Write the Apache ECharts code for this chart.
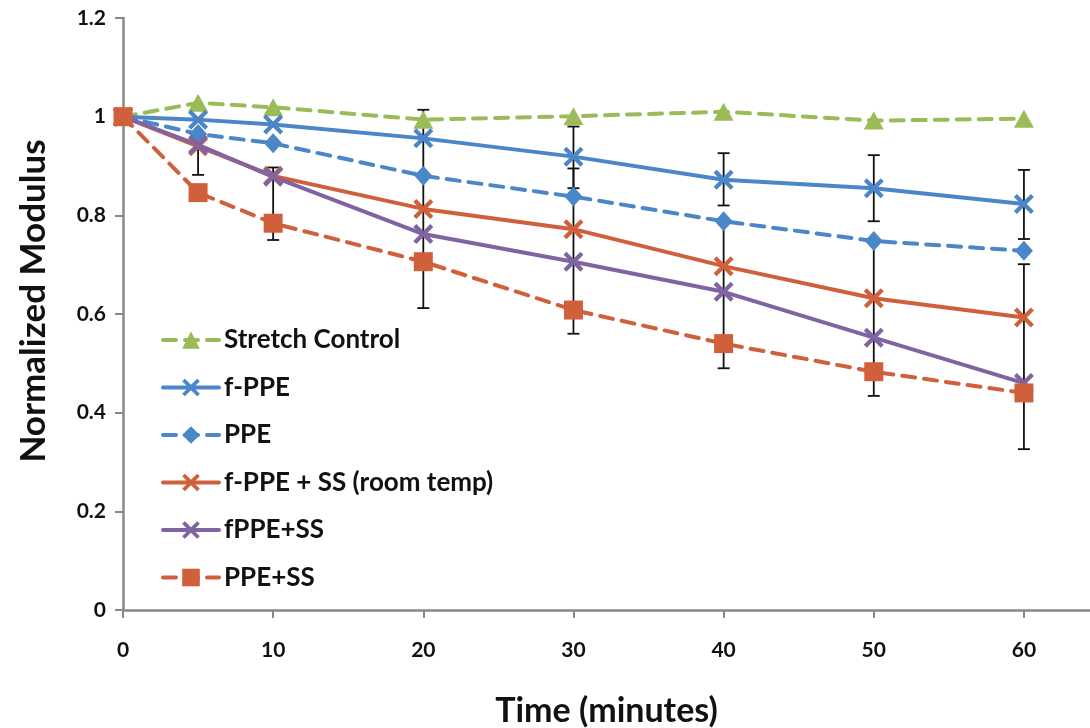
<!DOCTYPE html>
<html>
<head>
<meta charset="utf-8">
<script src="https://cdn.jsdelivr.net/npm/echarts@6/dist/echarts.min.js"></script>
<style>html,body{margin:0;padding:0;background:#fff}#c{width:1090px;height:728px}</style>
</head>
<body>
<div id="c"></div>
<script>
// ---- data ----
const timeMinutes = [0, 5, 10, 20, 30, 40, 50, 60];
const seriesNames = ['Stretch Control', 'f-PPE', 'PPE', 'f-PPE + SS (room temp)', 'fPPE+SS', 'PPE+SS'];
const stretchControl = [1.0, 1.028, 1.019, 0.994, 1.001, 1.010, 0.992, 0.996];
const fPPE          = [1.0, 0.994, 0.984, 0.956, 0.919, 0.872, 0.855, 0.823];
const PPE           = [1.0, 0.965, 0.946, 0.880, 0.838, 0.788, 0.748, 0.728];
const fPPE_SS_room  = [1.0, 0.940, 0.880, 0.813, 0.772, 0.697, 0.632, 0.593];
const fPPE_SS       = [1.0, 0.943, 0.878, 0.762, 0.706, 0.645, 0.552, 0.460];
const PPE_SS        = [1.0, 0.846, 0.784, 0.706, 0.608, 0.540, 0.483, 0.440];
// visible error-bar whiskers: [time, low, high]
const errorBars = [
  [5, 0.882, 0.965],
  [10, 0.750, 0.897],
  [20, 0.612, 1.014],
  [30, 0.855, 0.980],
  [30, 0.560, 0.895],
  [40, 0.820, 0.926],
  [40, 0.490, 0.788],
  [50, 0.788, 0.922],
  [50, 0.434, 0.748],
  [60, 0.752, 0.892],
  [60, 0.326, 0.701]
];
const xTicks = [0, 10, 20, 30, 40, 50, 60];
const yTicks = [0, 0.2, 0.4, 0.6, 0.8, 1, 1.2];

// ---- chart ----
const FONT = 'Lato';
const X_PATH = 'path://M0,3 L3,0 L10,7 L17,0 L20,3 L13,10 L20,17 L17,20 L10,13 L3,20 L0,17 L7,10 Z';
const GREEN = '#9BBB59', BLUE = '#4A86C8', ORANGE = '#D0603C', PURPLE = '#8064A2';

function pairs(vals) { return timeMinutes.map((t, i) => [t, vals[i]]); }
function lineSeries(name, vals, color, dashed, symbol, size) {
  return {
    name: name, type: 'line', data: pairs(vals), z: 3,
    symbol: symbol, symbolSize: size, showAllSymbol: true,
    lineStyle: { color: color, width: 4, type: dashed ? [13, 9] : 'solid', cap: 'round' },
    itemStyle: { color: color, borderWidth: 0 },
    emphasis: { disabled: true },
    animation: false
  };
}

const chart = echarts.init(document.getElementById('c'), null, { renderer: 'canvas' });
chart.setOption({
  backgroundColor: '#fff',
  animation: false,
  grid: { left: 123, right: 0, top: 18, bottom: 118, containLabel: false, outerBoundsMode: 'none' },
  legend: {
    orient: 'vertical', left: 156, top: 322,
    itemWidth: 56, itemHeight: 22, itemGap: 21.5,
    data: seriesNames,
    lineStyle: { width: 4 },
    textStyle: { fontFamily: FONT, fontWeight: 'bold', fontSize: 26, color: '#111' }
  },
  xAxis: {
    type: 'value', min: 0, max: 64.4, interval: 10,
    name: 'Time (minutes)', nameLocation: 'middle', nameGap: 84,
    nameTextStyle: { fontFamily: FONT, fontWeight: 'bold', fontSize: 34, color: '#111' },
    axisLine: { show: true, onZero: false, lineStyle: { color: '#888', width: 2.5 } },
    axisTick: { show: true, length: 8, inside: false, customValues: xTicks, lineStyle: { color: '#888', width: 2 } },
    axisLabel: { margin: 30, customValues: xTicks, fontFamily: FONT, fontWeight: 'bold', fontSize: 21, color: '#111',
      formatter: v => (v > 60.5 ? '' : String(v)) },
    splitLine: { show: false }
  },
  yAxis: {
    type: 'value', min: 0, max: 1.2, interval: 0.2,
    name: 'Normalized Modulus', nameLocation: 'middle', nameGap: 72,
    nameTextStyle: { fontFamily: FONT, fontWeight: 'bold', fontSize: 35, color: '#111', padding: [0, 0, 0, 26] },
    axisLine: { show: true, lineStyle: { color: '#888', width: 2.5 } },
    axisTick: { show: true, length: 8, inside: false, lineStyle: { color: '#888', width: 2 } },
    axisLabel: { margin: 17, customValues: yTicks, fontFamily: FONT, fontWeight: 'bold', fontSize: 21, color: '#111',
      formatter: v => String(Math.round(v * 10) / 10) },
    splitLine: { show: false }
  },
  series: [
    {
      type: 'custom', name: 'errors', z: 1, silent: true, animation: false,
      data: errorBars,
      renderItem: function (params, api) {
        const x = api.value(0);
        const lo = api.coord([x, api.value(1)]);
        const hi = api.coord([x, api.value(2)]);
        const w = 6;
        const st = { stroke: '#111', lineWidth: 1.8 };
        return { type: 'group', children: [
          { type: 'line', shape: { x1: lo[0], y1: lo[1], x2: hi[0], y2: hi[1] }, style: st },
          { type: 'line', shape: { x1: lo[0] - w, y1: lo[1], x2: lo[0] + w, y2: lo[1] }, style: st },
          { type: 'line', shape: { x1: hi[0] - w, y1: hi[1], x2: hi[0] + w, y2: hi[1] }, style: st }
        ] };
      }
    },
    lineSeries(seriesNames[0], stretchControl, GREEN, true, 'triangle', [20, 18]),
    lineSeries(seriesNames[1], fPPE, BLUE, false, X_PATH, 20),
    lineSeries(seriesNames[2], PPE, BLUE, true, 'diamond', [18, 20]),
    lineSeries(seriesNames[3], fPPE_SS_room, ORANGE, false, X_PATH, 20),
    lineSeries(seriesNames[4], fPPE_SS, PURPLE, false, X_PATH, 20),
    lineSeries(seriesNames[5], PPE_SS, ORANGE, true, 'rect', 19)
  ]
});
</script>
</body>
</html>
